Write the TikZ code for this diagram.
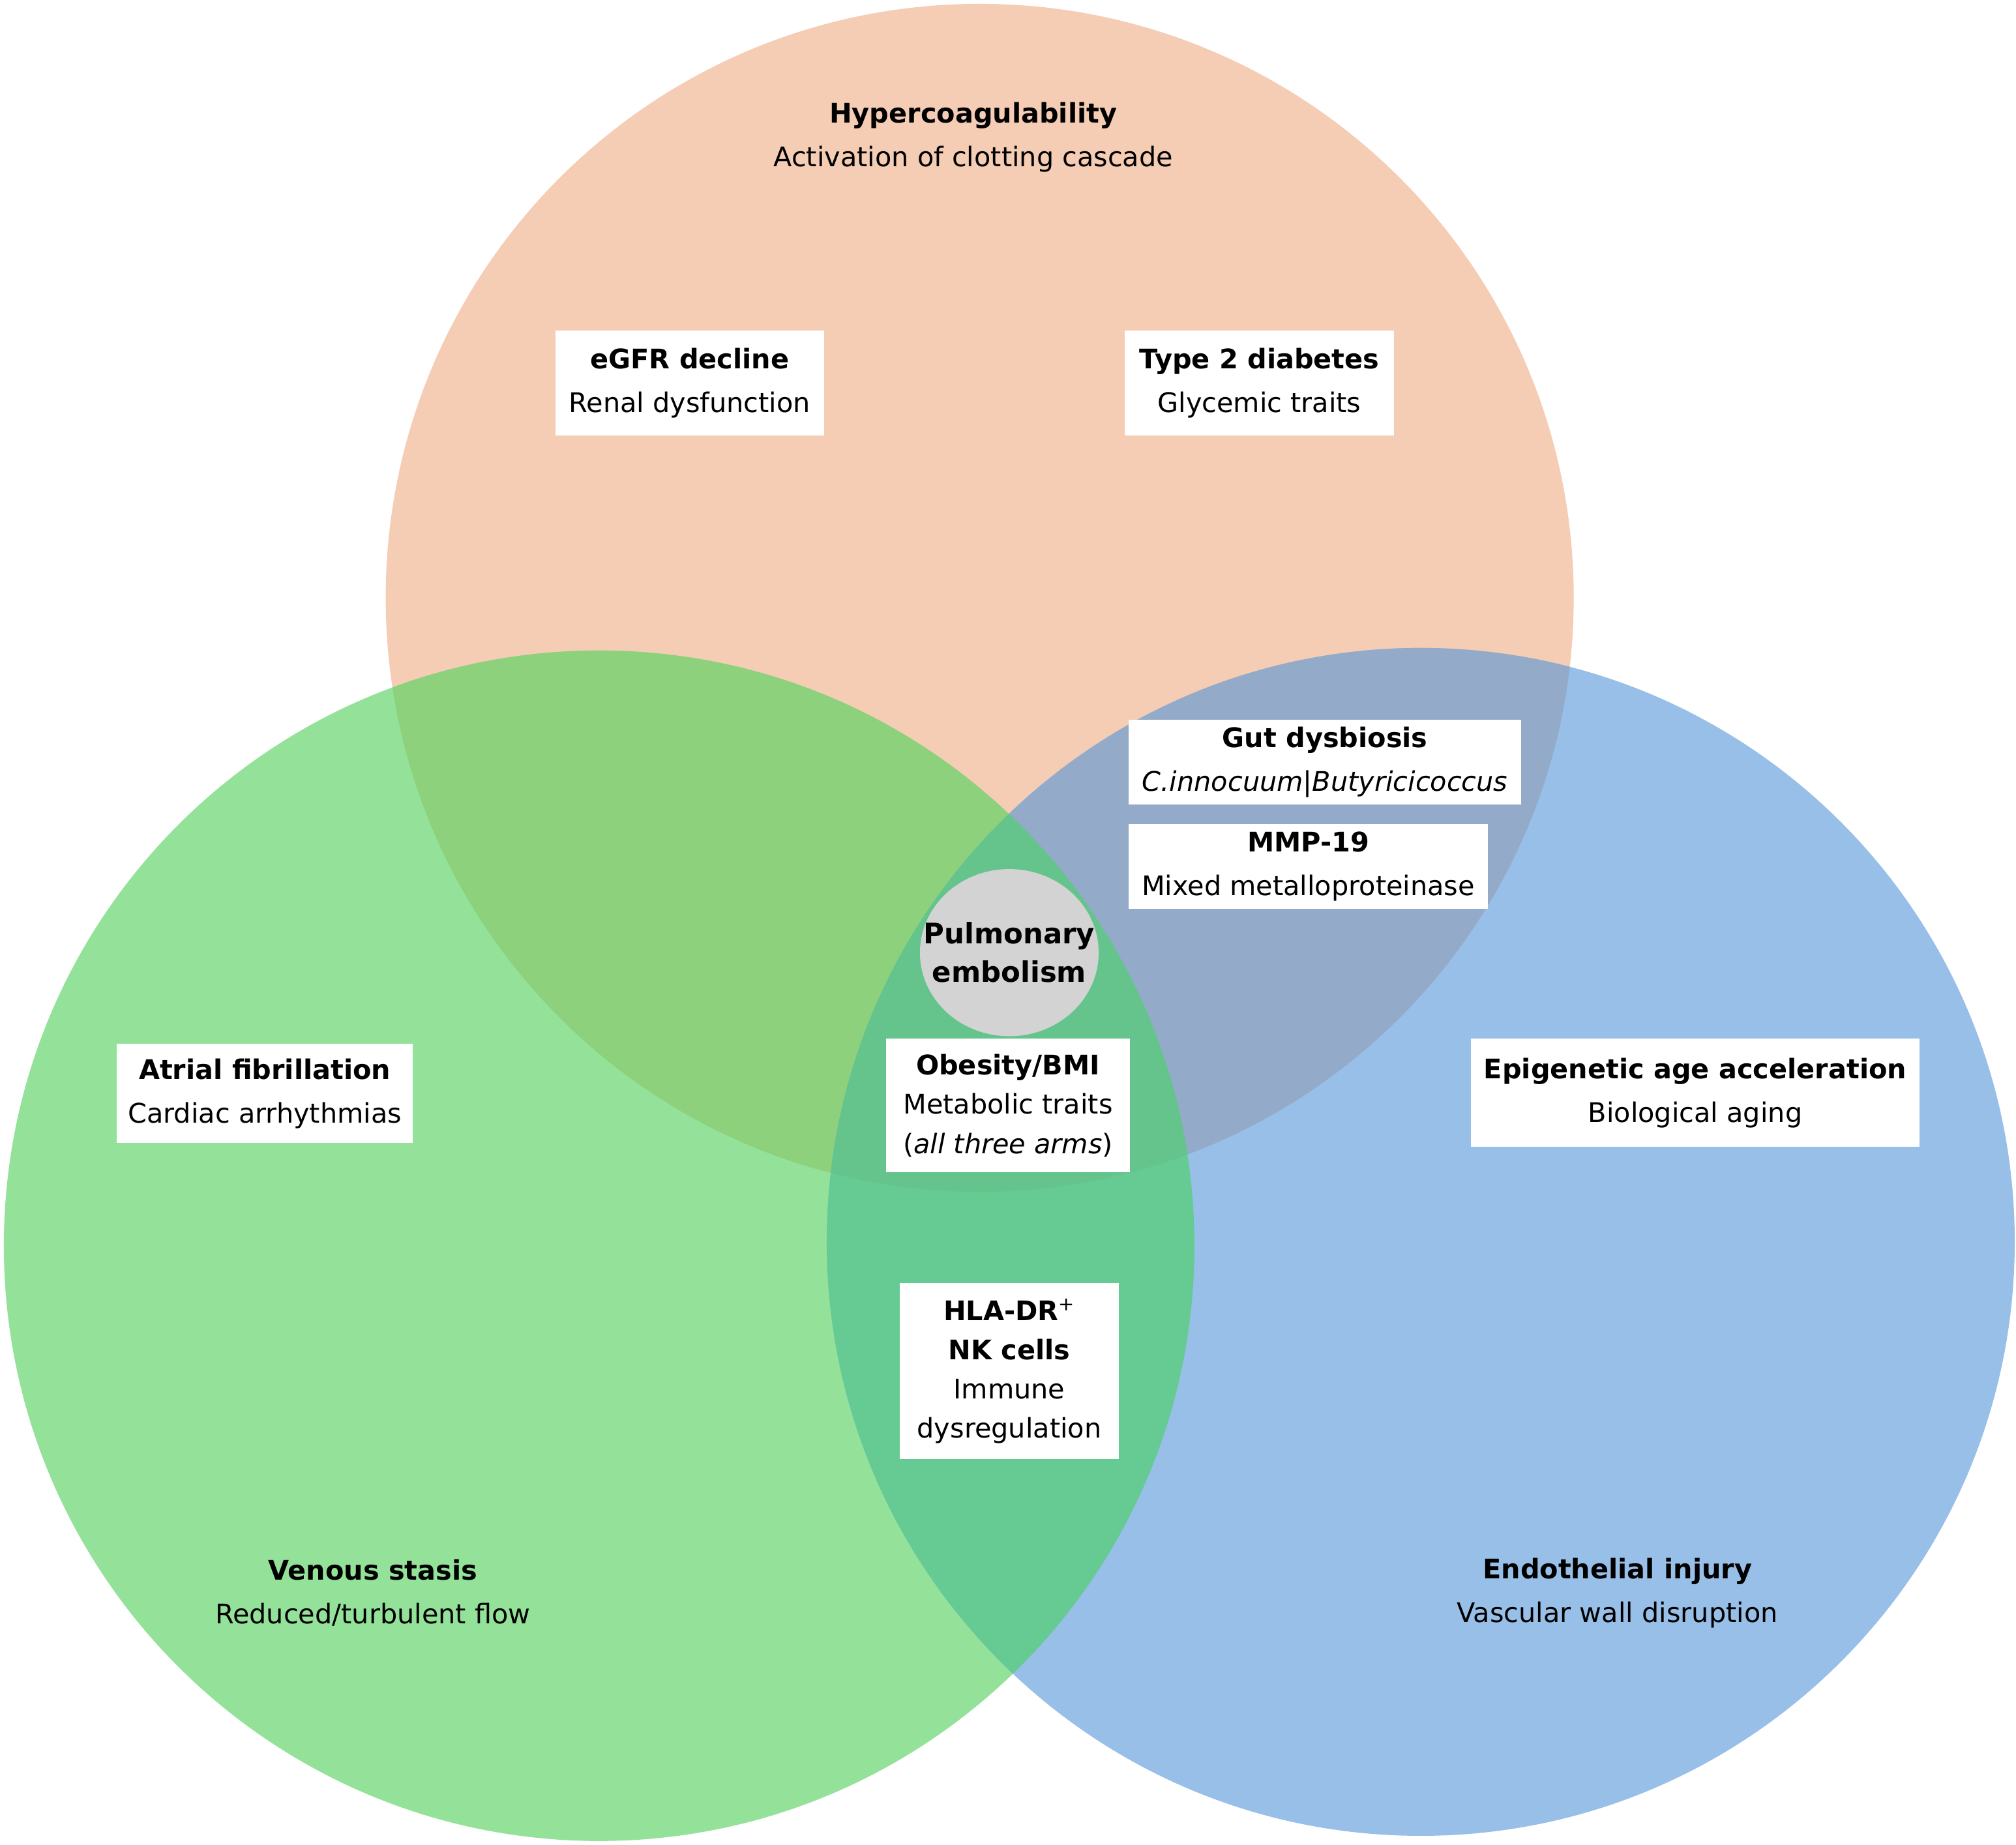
\documentclass[tikz,border=0pt]{standalone}
\usepackage{fontspec}
\setmainfont{DejaVu Sans}
\usetikzlibrary{shapes.geometric}
\definecolor{cOr}{HTML}{F5CCB4}
\definecolor{cGr}{HTML}{94E29A}
\definecolor{cBl}{HTML}{98BFE8}
\definecolor{cOG}{HTML}{8DD17D}
\definecolor{cOB}{HTML}{93AAC8}
\definecolor{cGB}{HTML}{66CA93}
\definecolor{cOGB}{HTML}{65C48C}
\definecolor{cPE}{HTML}{D3D3D3}
\tikzset{
  lbl/.style={align=center, inner sep=0pt, font=\fontsize{21}{34}\selectfont},
  wbox/.style={lbl, fill=white},
  tight/.style={font=\fontsize{21}{30.5}\selectfont},
  peshape/.style={ellipse, fill=cPE, inner sep=0pt, minimum width=139pt, minimum height=130pt},
  petext/.style={align=center, inner sep=0pt, font=\bfseries\fontsize{22}{30}\selectfont}
}
\begin{document}
\begin{tikzpicture}[x=1pt,y=-1pt]
\useasboundingbox (0,0) rectangle (1568,1435);
\fill[white] (0,0) rectangle (1568,1435);
\coordinate (O) at (762,465);
\coordinate (G) at (466,969);
\coordinate (B) at (1105,966);
\def\rO{462}\def\rG{463}\def\rB{462}
% single circles
\fill[cOr] (O) circle[radius=\rO];
\fill[cGr] (G) circle[radius=\rG];
\fill[cBl] (B) circle[radius=\rB];
% pairwise overlaps
\begin{scope}\clip (O) circle[radius=\rO]; \fill[cOG] (G) circle[radius=\rG];\end{scope}
\begin{scope}\clip (O) circle[radius=\rO]; \fill[cOB] (B) circle[radius=\rB];\end{scope}
\begin{scope}\clip (G) circle[radius=\rG]; \fill[cGB] (B) circle[radius=\rB];\end{scope}
\begin{scope}\clip (O) circle[radius=\rO]; \clip (G) circle[radius=\rG]; \fill[cOGB] (B) circle[radius=\rB];\end{scope}

% arm labels
\node[lbl] (hyper) at (757,107) {\textbf{Hypercoagulability}\\Activation of clotting cascade};
\node[lbl] (venous) at (290,1239) {\textbf{Venous stasis}\\Reduced/turbulent flow};
\node[lbl] (endo) at (1258,1239) {\textbf{Endothelial injury}\\Vascular wall disruption};

% boxes
\node[wbox, minimum width=209pt, minimum height=82pt] (egfr) at (536.5,298) {\textbf{eGFR decline}\\Renal dysfunction};
\node[wbox, minimum width=209pt, minimum height=82pt] (t2d) at (979.5,298) {\textbf{Type 2 diabetes}\\Glycemic traits};
\node[wbox, minimum width=305pt, minimum height=66pt] (gut) at (1030.5,593) {\textbf{Gut dysbiosis}\\\textit{C.innocuum|Butyricicoccus}};
\node[wbox, minimum width=279pt, minimum height=66pt] (mmp) at (1017.5,674) {\textbf{MMP-19}\\Mixed metalloproteinase};
\node[wbox, minimum width=230pt, minimum height=77pt] (af) at (206,850.5) {\textbf{Atrial fibrillation}\\Cardiac arrhythmias};
\node[wbox, minimum width=349pt, minimum height=84pt] (epi) at (1318.5,850) {\textbf{Epigenetic age acceleration}\\Biological aging};
\node[wbox, tight, minimum width=190pt, minimum height=104pt] (obes) at (784,860) {\textbf{Obesity/BMI}\\Metabolic traits\\(\textit{all three arms})};
\node[wbox, tight, minimum width=170pt, minimum height=137pt] (hla) at (785,1066.5) {\textbf{HLA-DR}{\mdseries\textsuperscript{+}}\\\textbf{NK cells}\\Immune\\dysregulation};

% central node
\node[peshape] (pe) at (785,741) {};
\node[petext] (petxt) at (pe.center) {Pulmonary\\embolism};
\end{tikzpicture}
\end{document}
